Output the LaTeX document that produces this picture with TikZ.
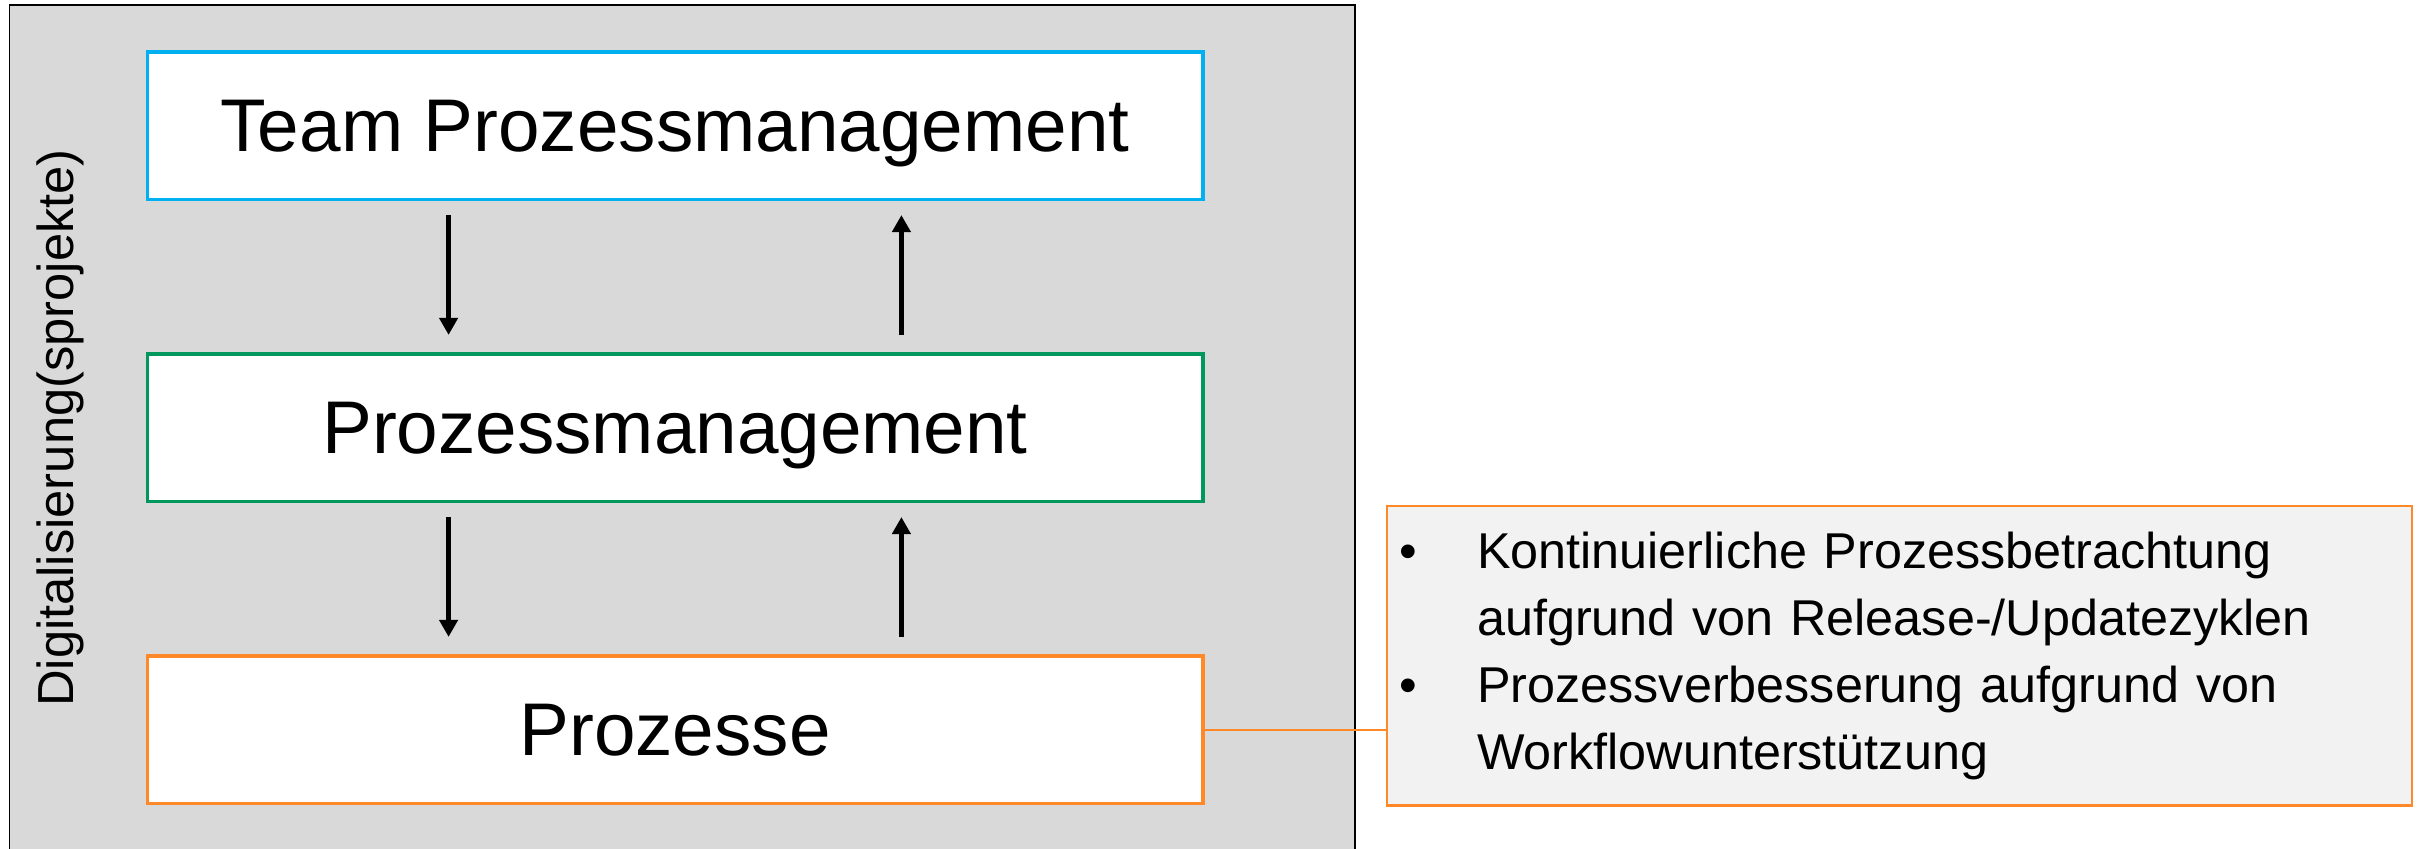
\documentclass[tikz,border=0pt]{standalone}
\usepackage{fontspec}
\setmainfont{Liberation Sans}
\usetikzlibrary{arrows.meta,positioning}
\definecolor{tpmblue}{RGB}{0,176,240}
\definecolor{pmgreen}{RGB}{0,152,92}
\definecolor{procorange}{RGB}{255,137,40}
\definecolor{digigray}{RGB}{217,217,217}
\definecolor{notegray}{RGB}{242,242,242}
\begin{document}
\begin{tikzpicture}[x=0.3pt,y=0.3pt,
  level/.style={draw=#1, line width=1.05pt, fill=white, inner sep=0pt, outer sep=0pt,
    minimum width=316.65pt, minimum height=44.25pt,
    font=\fontsize{22.4pt}{26pt}\selectfont, text height=20.3pt, text depth=4.75pt},
  flow/.style={line width=1.5pt, -{Triangle[width=5.4pt,length=5.1pt]}}]
\useasboundingbox (0,0) rectangle (2425,849);
% frame for the digitalisation projects
\draw[fill=digigray, line width=0.4pt] (9.5,-10) rectangle (1355,844);
\node[rotate=90, anchor=base, font=\fontsize{15.2pt}{18pt}\selectfont] (digi) at (73,421) {Digitalisierung(sprojekte)};
% the three levels
\node[level=tpmblue] (team) at (675,723) {Team Prozessmanagement};
\node[level=pmgreen, below=46.35pt of team] (mid) {Prozessmanagement};
\node[level=procorange, below=46.35pt of mid] (proc) {Prozesse};
\foreach \upper/\lower in {team/mid, mid/proc} % arrows down and up
{
\draw[flow] ([xshift=90.4pt,yshift=-4.6pt]\upper.south west) -- ([xshift=90.4pt,yshift=5.8pt]\lower.north west);
\draw[flow] ([xshift=-90.4pt,yshift=5.8pt]\lower.north east) -- ([xshift=-90.4pt,yshift=-4.6pt]\upper.south east);
}
% note on the processes
\node[draw=procorange, fill=notegray, line width=0.75pt, inner xsep=3.7pt, inner ysep=0pt,
  text width=300.1pt, minimum height=89.85pt, align=left,
  font=\fontsize{15.1pt}{20.1pt}\selectfont] (info) at (1899.25,193)
  {\makebox[23.4pt][l]{•}Kontinuierliche Prozessbetrachtung\\
   \hspace*{23.4pt}aufgrund von Release-/Updatezyklen\\
   \makebox[23.4pt][l]{•}Prozessverbesserung aufgrund von\\
   \hspace*{23.4pt}Workflowunterstützung};
\draw[procorange, line width=0.75pt] (proc.east) -- (proc.east -| info.west);
\end{tikzpicture}
\end{document}
